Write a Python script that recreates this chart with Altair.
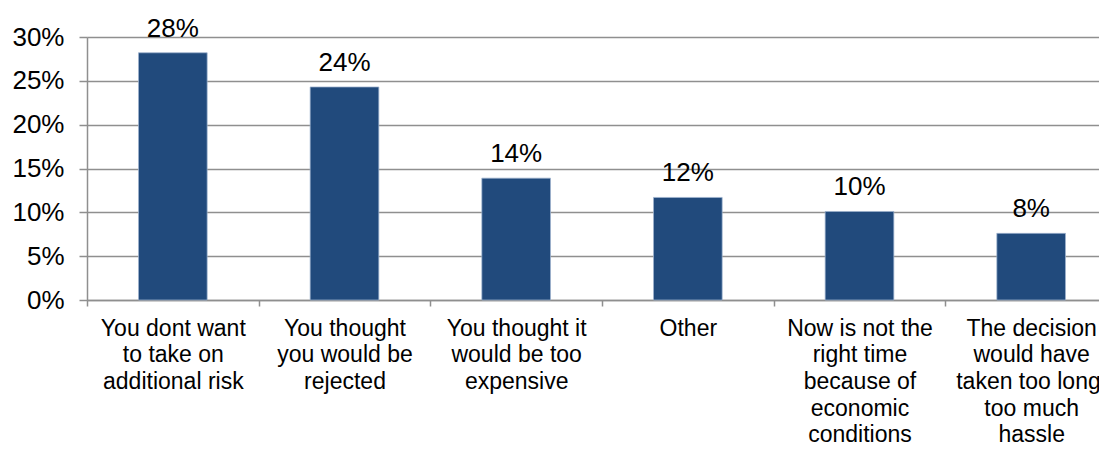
import altair as alt
import pandas as pd

categories = [
    "You dont want|to take on|additional risk",
    "You thought|you would be|rejected",
    "You thought it|would be too|expensive",
    "Other",
    "Now is not the|right time|because of|economic|conditions",
    "The decision|would have|taken too long/|too much|hassle",
]
values = [0.282, 0.243, 0.139, 0.117, 0.101, 0.076]
y_ticks = [0, 0.05, 0.10, 0.15, 0.20, 0.25, 0.30]

df = pd.DataFrame({"cat": categories, "val": values})

FONT = "Liberation Sans"
GRAY = "#8f8f8f"
BAND_RANGE = 1030
STEP = BAND_RANGE / 6.0

base = alt.Chart(df).encode(
    x=alt.X(
        "cat:N",
        sort=None,
        title=None,
        scale=alt.Scale(range=[0, BAND_RANGE], paddingInner=0.6, paddingOuter=0.3),
        axis=alt.Axis(
            labelAngle=0,
            labelExpr="split(datum.label, '|')",
            labelFont=FONT,
            labelFontSize=23,
            labelColor="black",
            labelLineHeight=26.7,
            labelPadding=11,
            labelLimit=400,
            labelBound=False,
            labelOverlap=False,
            tickOffset=-STEP / 2,
            labelOffset=STEP / 2,
            domainColor=GRAY,
            domainWidth=1.5,
            tickColor=GRAY,
            tickWidth=1.5,
            tickSize=6,
            grid=False,
        ),
    ),
    y=alt.Y(
        "val:Q",
        title=None,
        scale=alt.Scale(domain=[0, 0.30], nice=False),
        axis=alt.Axis(
            values=y_ticks,
            format=".0%",
            labelFont=FONT,
            labelFontSize=26,
            labelColor="black",
            labelPadding=15,
            domainColor=GRAY,
            domainWidth=1.5,
            tickColor=GRAY,
            tickWidth=1.5,
            tickSize=8,
            grid=True,
            gridColor=GRAY,
            gridWidth=1.5,
        ),
    ),
)

bars = base.mark_bar(color="#214a7c", stroke="#9fb3cf", strokeWidth=0.75)
labels = base.mark_text(
    baseline="alphabetic", dy=-16, font=FONT, fontSize=26, color="black"
).encode(text=alt.Text("val:Q", format=".0%"))

chart = (
    alt.layer(bars, labels)
    .properties(
        width=1012,
        height=263,
        autosize=alt.AutoSizeParams(type="none"),
        padding={"left": 79, "top": 29, "right": 0, "bottom": 149},
    )
    .configure_view(stroke=None)
    .configure(background="white")
)

chart.save("out.html", embed_options={"renderer": "svg", "actions": False})
